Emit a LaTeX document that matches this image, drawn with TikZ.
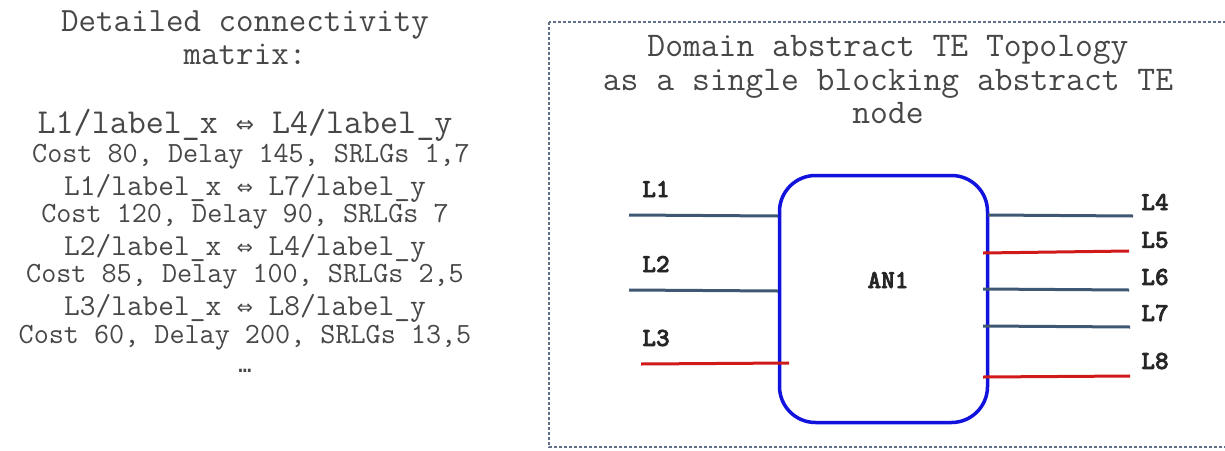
\documentclass[tikz,border=0pt]{standalone}
\usepackage{fontspec}
\newfontfamily\arrowfont{DejaVu Sans Mono}
\newfontfamily\portfont{lmmonolt10-bold.otf}[FakeBold=2.5]
\usetikzlibrary{positioning}

\definecolor{linkblue}{HTML}{3E5773}
\definecolor{linkred}{HTML}{D01A1A}
\definecolor{nodeblue}{HTML}{1212DD}
\definecolor{framegray}{HTML}{5F7088}

\tikzset{
  txt/.style={text=black!72, inner sep=0pt, align=center},
  port/.style={font=\portfont\fontsize{26}{28}\selectfont, text=black!85, inner sep=0pt},
  bluelink/.style={draw=linkblue, line width=3pt},
  redlink/.style={draw=linkred, line width=3pt},
}

\begin{document}
\begin{tikzpicture}[x=1pt,y=-1pt]
    \useasboundingbox (0,0) rectangle (1225,450);
    % connectivity matrix text
    \node[txt, font=\ttfamily\fontsize{34}{33}\selectfont] (mtitle) at (245,38) {Detailed connectivity\\matrix:};
    \node[txt, font=\ttfamily\fontsize{35}{33}\selectfont] (m1) at (245,125) {L1/label\_x {\arrowfont\fontsize{30}{33}\selectfont ⇔} L4/label\_y};
    \node[txt, font=\ttfamily\fontsize{29.3}{30}\selectfont] (c1) at (251,157) {Cost 80, Delay 145, SRLGs 1,7};
    \node[txt, font=\ttfamily\fontsize{30.5}{30}\selectfont] (m2) at (245,188) {L1/label\_x {\arrowfont\fontsize{26.6}{30}\selectfont ⇔} L7/label\_y};
    \node[txt, font=\ttfamily\fontsize{29.3}{30}\selectfont] (c2) at (245,217) {Cost 120, Delay 90, SRLGs 7};
    \node[txt, font=\ttfamily\fontsize{30.5}{30}\selectfont] (m3) at (245,248) {L2/label\_x {\arrowfont\fontsize{26.6}{30}\selectfont ⇔} L4/label\_y};
    \node[txt, font=\ttfamily\fontsize{29.3}{30}\selectfont] (c3) at (245,277) {Cost 85, Delay 100, SRLGs 2,5};
    \node[txt, font=\ttfamily\fontsize{30.5}{30}\selectfont] (m4) at (245,308) {L3/label\_x {\arrowfont\fontsize{26.6}{30}\selectfont ⇔} L8/label\_y};
    \node[txt, font=\ttfamily\fontsize{29.3}{30}\selectfont] (c4) at (245,338) {Cost 60, Delay 200, SRLGs 13,5};
    \node[txt, font=\arrowfont\fontsize{22}{24}\selectfont] (dots) at (245,371) {…};

    % abstract topology frame
    \draw[framegray, line width=1.1pt, dash pattern=on 3pt off 2pt] (549,22) rectangle (1240,447);
    \node[txt, font=\ttfamily\fontsize{34.6}{33.5}\selectfont] (ttitle) at (888,80) {Domain abstract TE Topology\\as a single blocking abstract TE\\node};

    % abstract node
    \node[draw=nodeblue, line width=3.5pt, rounded corners=36pt, minimum width=208pt, minimum height=247pt] (an1box) at (883.5,299) {};
    \node[port] (an1) at (888,280) {AN1};

    % link ends
    \coordinate (l1a) at (629,215);  \coordinate (l1b) at (778,216);
    \coordinate (l2a) at (629,290);  \coordinate (l2b) at (778,291);
    \coordinate (l3a) at (641,364);  \coordinate (l3b) at (789,363);
    \coordinate (l4a) at (988,215);  \coordinate (l4b) at (1133,216);
    \coordinate (l5a) at (983,253);  \coordinate (l5b) at (1129,251);
    \coordinate (l6a) at (983,289);  \coordinate (l6b) at (1129,290);
    \coordinate (l7a) at (983,326);  \coordinate (l7b) at (1130,327);
    \coordinate (l8a) at (983,377);  \coordinate (l8b) at (1130,376);

    \draw[bluelink] (l1a) -- (l1b);
    \draw[bluelink] (l2a) -- (l2b);
    \draw[redlink] (l3a) -- (l3b);
    \draw[bluelink] (l4a) -- (l4b);
    \draw[redlink] (l5a) -- (l5b);
    \draw[bluelink] (l6a) -- (l6b);
    \draw[bluelink] (l7a) -- (l7b);
    \draw[redlink] (l8a) -- (l8b);

    % link names
    \node[port] (n1) at (656,189) {L1};
    \node[port] (n2) at (656,264) {L2};
    \node[port] (n3) at (656,338) {L3};
    \node[port] (n4) at (1155,202) {L4};
    \node[port] (n5) at (1155,240) {L5};
    \node[port] (n6) at (1155,277) {L6};
    \node[port] (n7) at (1155,313) {L7};
    \node[port] (n8) at (1155,361) {L8};
\end{tikzpicture}
\end{document}
